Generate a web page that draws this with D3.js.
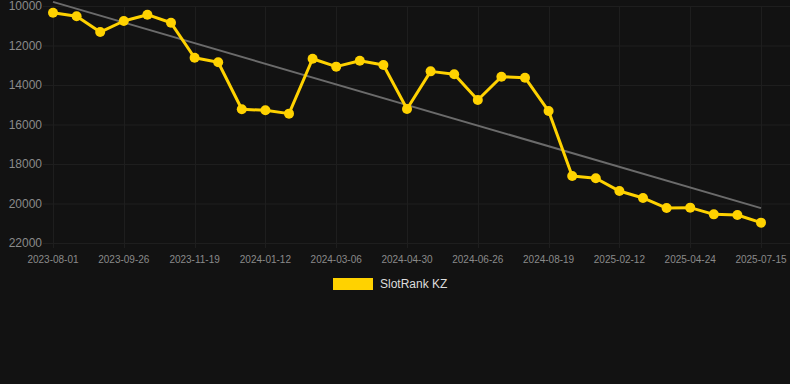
<!DOCTYPE html>
<html><head><meta charset="utf-8">
<script src="https://cdn.jsdelivr.net/npm/d3@7"></script>
<style>html,body{margin:0;padding:0;background:#121212;}svg{display:block;}</style>
</head><body>
<svg id="c" width="790" height="384"></svg>
<script>
const dates = ["2023-08-01","2023-08-19","2023-09-07","2023-09-26","2023-10-14","2023-11-01","2023-11-19","2023-12-07","2023-12-25","2024-01-12","2024-01-30","2024-02-17","2024-03-06","2024-03-24","2024-04-11","2024-04-30","2024-05-18","2024-06-07","2024-06-26","2024-07-14","2024-08-01","2024-08-19","2024-10-15","2024-12-10","2025-02-12","2025-03-19","2025-04-01","2025-04-24","2025-05-20","2025-06-17","2025-07-15"];
const ranks = [10340,10520,11320,10760,10440,10850,12620,12850,15230,15280,15450,12670,13070,12770,12990,15215,13310,13460,14760,13580,13630,15320,18610,18720,19370,19720,20230,20210,20550,20580,20970];
const yTicks = [10000,12000,14000,16000,18000,20000,22000];
const seriesName = "SlotRank KZ";

const svg = d3.select("#c");
const W = 790, H = 384;
const m = {left:53, right:29, top:6, bottom:141};
svg.append("rect").attr("width",W).attr("height",H).attr("fill","#121212");

const x = d3.scalePoint().domain(dates).range([m.left, W - m.right]);
const y = d3.scaleLinear().domain([10000,22000]).range([m.top, H - m.bottom]);
const gridColor = "#1e1e1e";
const labeled = dates.filter((d,i)=> i % 3 === 0);

// horizontal grid
svg.append("g").selectAll("line").data(yTicks).join("line")
  .attr("x1",43).attr("x2",W).attr("y1",d=>y(d)+0.5).attr("y2",d=>y(d)+0.5)
  .attr("stroke",gridColor).attr("stroke-width",1);
// vertical grid
svg.append("g").selectAll("line").data(labeled).join("line")
  .attr("x1",d=>Math.round(x(d))+0.5).attr("x2",d=>Math.round(x(d))+0.5)
  .attr("y1",m.top).attr("y2",H - m.bottom + 5)
  .attr("stroke",gridColor).attr("stroke-width",1);

// y axis labels
svg.append("g").selectAll("text").data(yTicks).join("text")
  .attr("x",42).attr("y",d=>y(d)).attr("dy","0.35em").attr("text-anchor","end")
  .attr("font-family","Liberation Sans, Arial, sans-serif").attr("font-size",12)
  .attr("fill","#8a8a8a").text(d=>d);
// x axis labels
svg.append("g").selectAll("text").data(labeled).join("text")
  .attr("x",d=>x(d)).attr("y",H - m.bottom + 16).attr("dy","0.35em").attr("text-anchor","middle")
  .attr("font-family","Liberation Sans, Arial, sans-serif").attr("font-size",10)
  .attr("fill","#8a8a8a").text(d=>d);

// regression trend
const n = ranks.length;
const xm = d3.mean(ranks,(d,i)=>i), ym = d3.mean(ranks);
const slope = d3.sum(ranks,(d,i)=>(i-xm)*(d-ym)) / d3.sum(ranks,(d,i)=>(i-xm)*(i-xm));
const icpt = ym - slope*xm;
svg.append("line")
  .attr("x1",x(dates[0])).attr("y1",y(icpt))
  .attr("x2",x(dates[n-1])).attr("y2",y(icpt+slope*(n-1)))
  .attr("stroke","#6b6b6b").attr("stroke-width",2);

const yellow = "#ffd200";
const line = d3.line().x((d,i)=>x(dates[i])).y(d=>y(d));
svg.append("path").datum(ranks).attr("d",line).attr("fill","none")
  .attr("stroke",yellow).attr("stroke-width",3).attr("stroke-linejoin","round");
svg.append("g").selectAll("circle").data(ranks).join("circle")
  .attr("cx",(d,i)=>x(dates[i])).attr("cy",d=>y(d)).attr("r",5).attr("fill",yellow);

// legend
const lg = svg.append("g");
lg.append("rect").attr("x",333).attr("y",278).attr("width",40).attr("height",12).attr("fill",yellow);
lg.append("text").attr("x",380).attr("y",284).attr("dy","0.35em")
  .attr("font-family","Liberation Sans, Arial, sans-serif").attr("font-size",12)
  .attr("fill","#dddddd").text(seriesName);
</script>
</body></html>
